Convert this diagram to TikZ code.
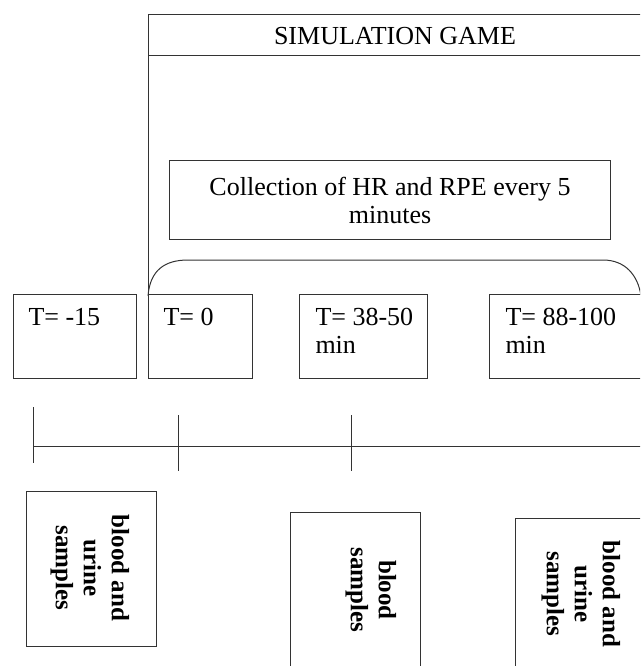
\documentclass[tikz,border=0pt]{standalone}
\usepackage{fontspec}
\setmainfont{Liberation Serif}
\begin{document}
\begin{tikzpicture}[x=1pt,y=-1pt,
  line width=1pt,
  ln/.style={draw=black!80},
  box/.style={draw=black!80, rectangle, inner sep=0pt},
  txt/.style={font=\fontsize{26}{28}\selectfont, inner sep=0pt},
  vtxt/.style={font=\fontsize{25}{28}\selectfont\bfseries, inner sep=0pt, align=center, rotate=-90}]
\useasboundingbox (0,0) rectangle (640,666);
\clip (0,0) rectangle (640,666);
% frame of the simulation game
\draw[ln] (700,15) -- (148,15) -- (148,295);
\draw[ln] (148,56) -- (700,56);
\node[txt, anchor=base] (title) at (395,45) {SIMULATION GAME};
% collection box
\node[box, minimum width=441pt, minimum height=79pt, anchor=north west] (coll) at (169,160) {};
\node[txt, align=center] (colltext) at (coll.center) {Collection of HR and RPE every 5\\minutes};
% bracket arc
\draw[ln] (148,296) .. controls (150,270) and (165,260) .. (188,260) -- (603,260)
  .. controls (625,260) and (638,275) .. (641,296);
% time boxes
\node[box, minimum width=123pt, minimum height=84pt, anchor=north west] (t1) at (12.5,294) {};
\node[box, minimum width=104pt, minimum height=84pt, anchor=north west] (t2) at (148,294) {};
\node[box, minimum width=128pt, minimum height=84pt, anchor=north west] (t3) at (299,294) {};
\node[box, minimum width=170pt, minimum height=84pt, anchor=north west] (t4) at (489,294) {};
\node[txt, anchor=base west] (t1a) at (28,325) {T= -15};
\node[txt, anchor=base west] (t2a) at (163,325) {T= 0};
\node[txt, anchor=base west] (t3a) at (315,325) {T= 38-50};
\node[txt, anchor=base west] (t3b) at (315,353) {min};
\node[txt, anchor=base west] (t4a) at (505,325) {T= 88-100};
\node[txt, anchor=base west] (t4b) at (505,353) {min};
% timeline
\coordinate (l0) at (33,446);
\coordinate (l1) at (645,446);
\coordinate (k1a) at (33,407); \coordinate (k1b) at (33,463);
\coordinate (k2a) at (178,415); \coordinate (k2b) at (178,471);
\coordinate (k3a) at (351,415); \coordinate (k3b) at (351,471);
\draw[ln] (l0) -- (l1);
\draw[ln] (k1a) -- (k1b);
\draw[ln] (k2a) -- (k2b);
\draw[ln] (k3a) -- (k3b);
% sample boxes
\node[box, minimum width=130pt, minimum height=155pt, anchor=north west] (s1) at (26,491) {};
\node[box, minimum width=130pt, minimum height=170pt, anchor=north west] (s2) at (290,512) {};
\node[box, minimum width=150pt, minimum height=170pt, anchor=north west] (s3) at (515,518) {};
\node[vtxt] (s1t) at (90,568) {blood and\\urine\\samples};
\node[vtxt] (s2t) at (371,590) {blood\\samples};
\node[vtxt] (s3t) at (581,594) {blood and\\urine\\samples};
\end{tikzpicture}
\end{document}
